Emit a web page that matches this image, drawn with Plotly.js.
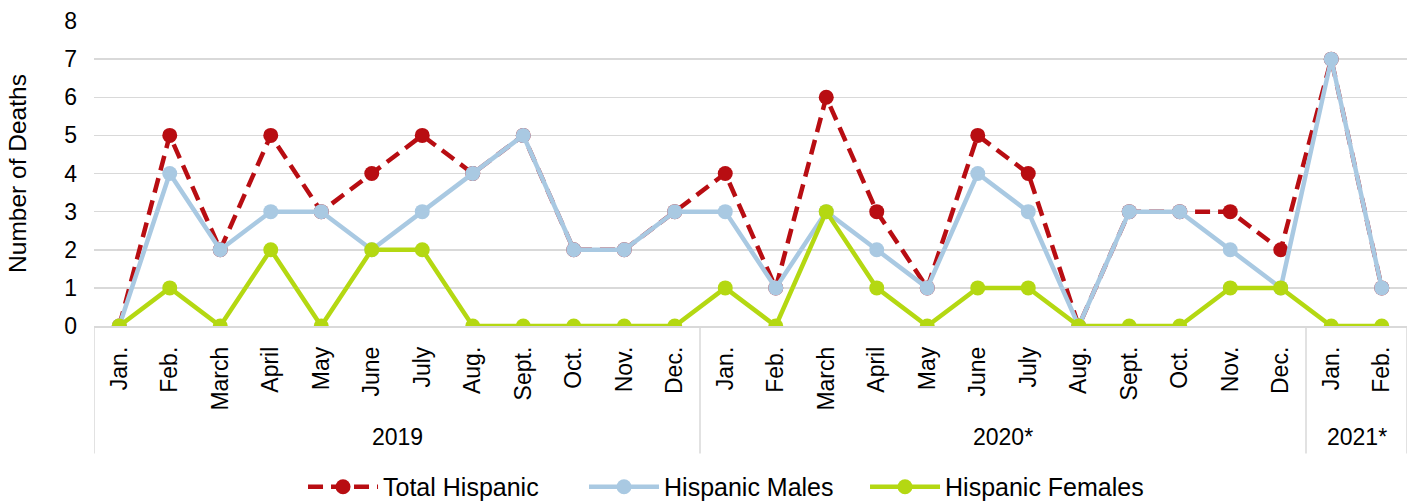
<!DOCTYPE html>
<html>
<head>
<meta charset="utf-8">
<script src="https://cdn.plot.ly/plotly-3.0.1.min.js"></script>
<style>html,body{margin:0;padding:0;background:#fff;}#chart{width:1414px;height:502px;}</style>
</head>
<body>
<div id="chart"></div>
<script>
const months = ["Jan.","Feb.","March","April","May","June","July","Aug.","Sept.","Oct.","Nov.","Dec.",
                "Jan.","Feb.","March","April","May","June","July","Aug.","Sept.","Oct.","Nov.","Dec.",
                "Jan.","Feb."];
const yearGroups = ["2019","2020*","2021*"];
const groupSizes = [12, 12, 2];
const totalHispanic   = [0,5,2,5,3,4,5,4,5,2,2,3, 4,1,6,3,1,5,4,0,3,3,3,2, 7,1];
const hispanicMales   = [0,4,2,3,3,2,3,4,5,2,2,3, 3,1,3,2,1,4,3,0,3,3,2,1, 7,1];
const hispanicFemales = [0,1,0,2,0,2,2,0,0,0,0,0, 1,0,3,1,0,1,1,0,0,0,1,1, 0,0];

const idx = months.map((m, i) => i);
const FONT = "Liberation Sans, Arial, sans-serif";

const traces = [
  {x: idx, y: totalHispanic, name: "Total Hispanic", mode: "lines+markers",
   line: {color: "#B80D12", width: 4.5, dash: "15px,8px"},
   marker: {color: "#B80D12", size: 15}},
  {x: idx, y: hispanicMales, name: "Hispanic Males", mode: "lines+markers",
   line: {color: "#A9C9E2", width: 4.5},
   marker: {color: "#A9C9E2", size: 15}},
  {x: idx, y: hispanicFemales, name: "Hispanic Females", mode: "lines+markers",
   line: {color: "#B4D812", width: 4.5},
   marker: {color: "#B4D812", size: 15}}
];

// group boundaries and label positions
const shapes = [];
const annotations = [];
let start = 0;
const bounds = [-0.5];
groupSizes.forEach((n, g) => {
  const end = start + n;
  bounds.push(end - 0.5);
  annotations.push({x: (start + end - 1) / 2, xref: "x", y: -0.364, yref: "paper",
    text: yearGroups[g], showarrow: false, xanchor: "center", yanchor: "middle",
    font: {family: FONT, size: 23, color: "#000"}});
  start = end;
});
bounds.forEach(b => {
  shapes.push({type: "line", xref: "x", yref: "paper", x0: b, x1: b, y0: 0, y1: -0.418,
    line: {color: "#D9D9D9", width: 1.5}});
});

const layout = {
  width: 1414, height: 502,
  margin: {l: 94, r: 7, t: 21, b: 176},
  paper_bgcolor: "#fff", plot_bgcolor: "#fff",
  font: {family: FONT, size: 23, color: "#000"},
  showlegend: true,
  legend: {orientation: "h", xref: "container", yref: "container", x: 0.2143, xanchor: "left",
    y: 0.03, yanchor: "middle",
    font: {family: FONT, size: 25, color: "#000"}, entrywidth: 196, entrywidthmode: "pixels",
    itemwidth: 70, traceorder: "normal", borderwidth: 0},
  xaxis: {range: [-0.5, 25.5], tickmode: "array", tickvals: idx, ticktext: months,
    tickangle: -90, showgrid: false, zeroline: false, showline: true, linecolor: "#D9D9D9",
    linewidth: 1.5, ticks: "", ticklabelstandoff: 10, tickfont: {family: FONT, size: 23, color: "#000"}},
  yaxis: {range: [0, 8], dtick: 1, showgrid: true, gridcolor: "#D9D9D9", gridwidth: 1.5,
    zeroline: false, showline: false, ticks: "", ticklabelstandoff: 16,
    tickfont: {family: FONT, size: 23, color: "#000"},
    title: {text: "Number of Deaths", font: {family: FONT, size: 24.5, color: "#000"}, standoff: 30}},
  shapes: shapes,
  annotations: annotations
};

Plotly.newPlot("chart", traces, layout, {displayModeBar: false, staticPlot: true});
</script>
</body>
</html>
